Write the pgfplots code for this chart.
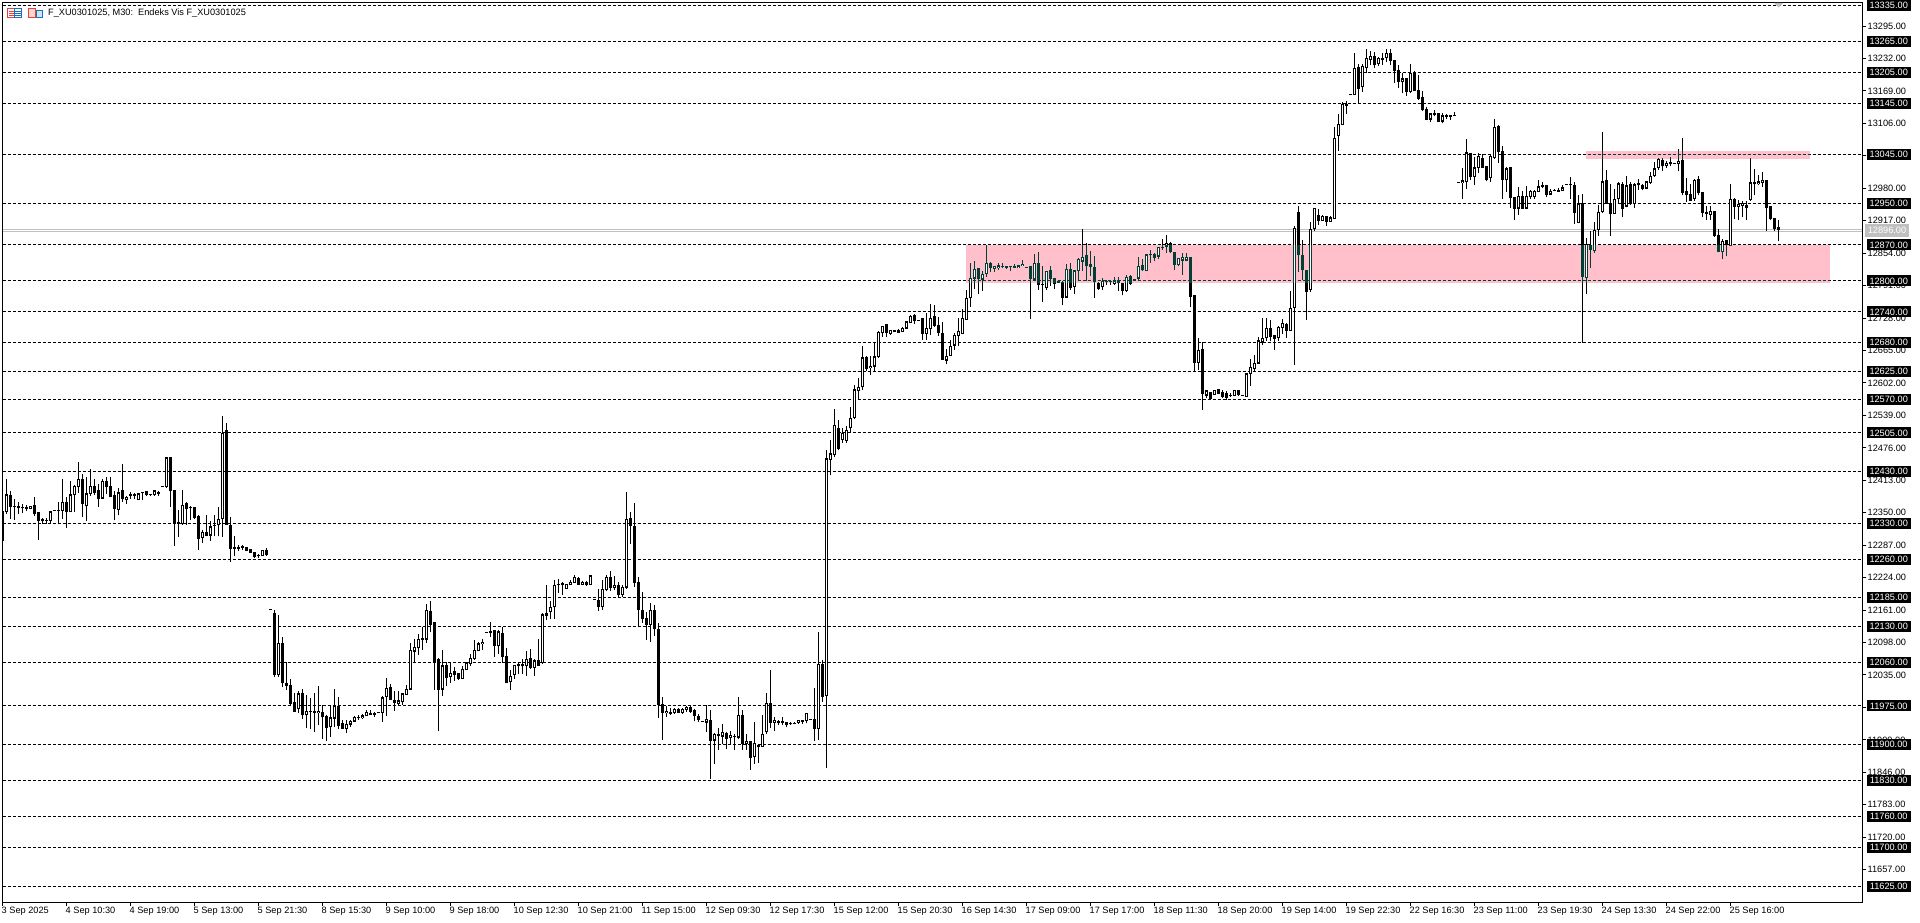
\documentclass[border=0pt]{standalone}
\usepackage{fontspec}
\setmainfont{Liberation Sans}
\usepackage{pgfplots}
\usepackage{pgfplotstable}
\pgfplotsset{compat=1.18}
\usetikzlibrary{calc}
\definecolor{zone}{HTML}{003F34}
\definecolor{lvl}{HTML}{C0C0C0}
\definecolor{iconred}{HTML}{E8413A}
\definecolor{iconblue}{HTML}{1C6FB8}
\definecolor{iconpink}{HTML}{FBD5CF}
\pgfplotstableread{
i o h l c
0 12352 12352 12296 12296
1 12351 12415 12348 12385
2 12383 12393 12338 12362
3 12363 12377 12335 12361
4 12362 12370 12348 12359
5 12361 12367 12349 12359
6 12361 12365 12354 12358
7 12357 12363 12357 12363
8 12364 12380 12343 12349
9 12351 12351 12298 12334
10 12337 12340 12328 12334
11 12335 12339 12328 12334
12 12334 12354 12328 12352
13 12354 12354 12354 12354
14 12354 12370 12328 12354
15 12354 12415 12338 12371
16 12371 12381 12320 12351
17 12351 12411 12351 12385
18 12385 12403 12351 12401
19 12400 12449 12388 12416
20 12416 12426 12341 12367
21 12363 12420 12334 12387
22 12386 12435 12383 12402
23 12402 12416 12385 12389
24 12393 12406 12361 12378
25 12378 12416 12378 12412
26 12412 12419 12387 12400
27 12401 12420 12380 12382
28 12383 12393 12335 12357
29 12355 12398 12345 12389
30 12393 12444 12371 12378
31 12376 12383 12367 12380
32 12386 12391 12377 12383
33 12385 12388 12376 12383
34 12375 12388 12374 12387
35 12388 12391 12374 12390
36 12391 12393 12382 12384
37 12386 12387 12382 12384
38 12385 12395 12383 12393
39 12389 12393 12383 12387
40 12400 12400 12400 12400
41 12400 12459 12398 12457
42 12457 12459 12361 12393
43 12393 12393 12285 12328
44 12332 12356 12303 12328
45 12328 12395 12327 12365
46 12369 12371 12327 12357
47 12361 12364 12335 12359
48 12360 12360 12337 12341
49 12343 12345 12277 12299
50 12301 12317 12291 12313
51 12313 12345 12304 12306
52 12306 12334 12295 12323
53 12325 12345 12304 12325
54 12326 12362 12304 12338
55 12338 12537 12303 12505
56 12510 12525 12327 12327
57 12325 12341 12254 12281
58 12283 12304 12266 12280
59 12283 12288 12275 12281
60 12284 12287 12277 12282
61 12283 12284 12275 12277
62 12279 12279 12272 12272
63 12273 12274 12262 12264
64 12267 12270 12262 12266
65 12266 12278 12266 12278
66 12278 12281 12267 12268
67 12161 12161 12161 12161
68 12154 12162 12032 12036
69 12036 12152 12032 12097
70 12097 12109 12011 12019
71 12019 12060 12005 12015
72 12016 12028 11977 11979
73 11983 12000 11963 11964
74 11969 12003 11961 11999
75 12000 12007 11950 11957
76 11958 11996 11932 11965
77 11965 11990 11931 11963
78 11965 12000 11925 11961
79 11961 12014 11937 11965
80 11963 11977 11911 11953
81 11954 11958 11906 11933
82 11935 11975 11915 11952
83 11951 12007 11935 11974
84 11974 11993 11931 11937
85 11942 11948 11931 11931
86 11931 11948 11922 11940
87 11939 11948 11935 11946
88 11945 11955 11943 11953
89 11952 11957 11948 11953
90 11952 11959 11950 11956
91 11955 11968 11955 11963
92 11961 11967 11957 11957
93 11958 11964 11953 11960
94 11961 11961 11961 11961
95 11961 11995 11944 11991
96 11992 12030 11956 12010
97 12012 12018 11986 11987
98 11985 12003 11966 11981
99 11979 12003 11976 11985
100 11983 12001 11977 11999
101 11997 12016 11997 12008
102 12007 12097 12005 12084
103 12081 12104 12058 12089
104 12087 12115 12074 12105
105 12104 12128 12084 12107
106 12104 12172 12097 12161
107 12159 12179 12118 12133
108 12137 12138 12005 12060
109 12065 12068 11926 12006
110 12007 12084 11994 12053
111 12053 12060 12013 12029
112 12032 12058 12019 12039
113 12042 12050 12023 12036
114 12038 12039 12025 12028
115 12028 12053 12027 12047
116 12045 12060 12044 12059
117 12057 12075 12052 12068
118 12067 12102 12065 12084
119 12082 12099 12081 12096
120 12095 12105 12084 12099
121 12117 12117 12117 12117
122 12118 12138 12109 12120
123 12121 12121 12070 12091
124 12091 12122 12076 12119
125 12117 12129 12058 12071
126 12072 12087 12019 12019
127 12021 12044 12005 12033
128 12036 12054 12028 12054
129 12052 12058 12036 12055
130 12052 12066 12036 12055
131 12052 12081 12034 12066
132 12068 12085 12047 12049
133 12049 12066 12034 12063
134 12064 12105 12052 12053
135 12058 12155 12056 12152
136 12151 12210 12141 12154
137 12157 12179 12144 12167
138 12167 12220 12144 12210
139 12212 12222 12194 12210
140 12213 12216 12191 12211
141 12202 12212 12202 12212
142 12211 12219 12210 12216
143 12214 12229 12213 12225
144 12222 12225 12211 12211
145 12210 12217 12210 12216
146 12215 12217 12208 12210
147 12210 12228 12210 12228
148 12181 12181 12181 12181
149 12181 12202 12160 12168
150 12168 12220 12162 12202
151 12200 12230 12199 12225
152 12225 12237 12198 12205
153 12205 12228 12200 12210
154 12210 12216 12186 12191
155 12191 12210 12186 12206
156 12205 12390 12202 12338
157 12339 12352 12289 12325
158 12324 12369 12206 12214
159 12215 12225 12128 12162
160 12161 12196 12136 12145
161 12146 12157 12103 12133
162 12133 12175 12100 12161
163 12160 12171 12111 12124
164 12123 12136 11952 11977
165 11979 11992 11909 11961
166 11961 11974 11953 11965
167 11960 11971 11958 11962
168 11961 11971 11960 11968
169 11968 11971 11961 11962
170 11962 11971 11960 11969
171 11968 11974 11964 11973
172 11973 11974 11962 11964
173 11966 11969 11945 11955
174 11955 11959 11943 11948
175 11944 11944 11944 11944
176 11943 11977 11924 11950
177 11948 11968 11834 11908
178 11908 11922 11863 11920
179 11917 11932 11889 11920
180 11916 11940 11901 11924
181 11922 11924 11891 11912
182 11914 11926 11900 11918
183 11917 11920 11889 11915
184 11914 11992 11911 11957
185 11957 11968 11889 11902
186 11901 11921 11889 11907
187 11907 11907 11851 11875
188 11876 11944 11863 11903
189 11899 11900 11865 11895
190 11896 11958 11896 11920
191 11924 12000 11921 11980
192 11981 12045 11932 11943
193 11943 11953 11926 11948
194 11943 11948 11937 11945
195 11942 11953 11937 11945
196 11944 11944 11934 11938
197 11940 11944 11938 11942
198 11941 11944 11939 11942
199 11942 11948 11939 11947
200 11945 11948 11940 11948
201 11946 11961 11941 11961
202 11948 11948 11948 11948
203 11950 12010 11907 11931
204 11931 12118 11909 12056
205 12055 12065 11982 11993
206 11994 12471 11854 12455
207 12453 12491 12423 12465
208 12463 12552 12458 12520
209 12515 12530 12471 12475
210 12492 12515 12485 12505
211 12490 12518 12485 12510
212 12515 12556 12505 12534
213 12534 12598 12532 12589
214 12586 12612 12570 12594
215 12594 12673 12588 12651
216 12651 12655 12625 12630
217 12631 12655 12617 12635
218 12634 12682 12625 12653
219 12652 12703 12651 12701
220 12699 12712 12691 12712
221 12715 12715 12692 12699
222 12697 12704 12695 12704
223 12704 12704 12700 12701
224 12704 12706 12699 12700
225 12701 12710 12700 12709
226 12708 12721 12708 12721
227 12719 12733 12719 12732
228 12733 12736 12717 12722
229 12723 12723 12723 12723
230 12727 12729 12685 12698
231 12697 12737 12685 12709
232 12707 12756 12696 12728
233 12731 12754 12711 12714
234 12714 12730 12694 12700
235 12699 12720 12646 12648
236 12646 12667 12638 12654
237 12655 12686 12655 12673
238 12675 12699 12666 12695
239 12693 12729 12673 12702
240 12698 12745 12697 12728
241 12725 12783 12724 12767
242 12767 12834 12750 12805
243 12805 12839 12785 12823
244 12824 12825 12774 12804
245 12803 12819 12781 12814
246 12814 12870 12808 12835
247 12834 12836 12817 12826
248 12824 12829 12817 12829
249 12825 12835 12822 12830
250 12829 12834 12825 12827
251 12829 12829 12823 12826
252 12828 12829 12819 12827
253 12828 12832 12825 12826
254 12825 12830 12825 12830
255 12829 12840 12829 12833
256 12825 12825 12825 12825
257 12828 12828 12726 12805
258 12803 12853 12801 12834
259 12835 12856 12783 12793
260 12794 12829 12760 12792
261 12786 12819 12783 12819
262 12820 12829 12790 12805
263 12806 12806 12785 12794
264 12799 12799 12796 12796
265 12798 12800 12753 12767
266 12768 12833 12766 12823
267 12823 12834 12783 12787
268 12788 12822 12775 12820
269 12819 12844 12800 12842
270 12838 12900 12819 12847
271 12849 12874 12800 12829
272 12832 12858 12809 12827
273 12827 12849 12767 12798
274 12796 12798 12783 12785
275 12788 12806 12782 12800
276 12800 12801 12792 12799
277 12800 12801 12792 12799
278 12795 12807 12792 12800
279 12801 12807 12781 12796
280 12796 12796 12772 12781
281 12781 12811 12779 12808
282 12809 12812 12793 12794
283 12803 12803 12803 12803
284 12805 12847 12800 12829
285 12830 12842 12819 12821
286 12819 12851 12819 12851
287 12850 12861 12835 12852
288 12851 12855 12838 12846
289 12848 12866 12842 12865
290 12864 12882 12861 12866
291 12867 12890 12855 12874
292 12874 12876 12855 12856
293 12856 12856 12821 12832
294 12832 12845 12829 12845
295 12840 12855 12812 12846
296 12840 12855 12838 12847
297 12847 12847 12750 12770
298 12772 12772 12623 12641
299 12641 12690 12628 12666
300 12668 12682 12550 12581
301 12578 12589 12572 12587
302 12584 12585 12569 12572
303 12579 12589 12579 12588
304 12589 12591 12580 12581
305 12584 12589 12573 12575
306 12582 12586 12569 12574
307 12579 12582 12575 12577
308 12577 12589 12576 12588
309 12588 12589 12576 12579
310 12577 12577 12577 12577
311 12575 12622 12575 12620
312 12620 12648 12597 12633
313 12629 12656 12626 12640
314 12640 12692 12639 12684
315 12681 12729 12676 12689
316 12689 12729 12683 12708
317 12708 12725 12683 12692
318 12695 12695 12666 12688
319 12689 12713 12684 12711
320 12709 12727 12698 12718
321 12715 12718 12690 12703
322 12703 12781 12703 12747
323 12748 12907 12637 12902
324 12934 12945 12818 12850
325 12850 12879 12802 12821
326 12821 12821 12724 12779
327 12783 12914 12779 12900
328 12901 12941 12898 12941
329 12927 12939 12909 12917
330 12917 12928 12916 12926
331 12925 12927 12907 12915
332 12915 12927 12915 12923
333 12921 13098 12921 13077
334 13082 13125 13053 13104
335 13103 13148 13103 13143
336 13140 13149 13125 13143
337 13162 13162 13162 13162
338 13162 13242 13162 13213
339 13215 13222 13145 13173
340 13177 13221 13167 13217
341 13214 13251 13203 13232
342 13229 13246 13219 13236
343 13236 13245 13214 13219
344 13221 13234 13218 13233
345 13229 13242 13220 13232
346 13233 13250 13226 13242
347 13242 13251 13219 13228
348 13228 13230 13185 13208
349 13209 13220 13174 13187
350 13187 13203 13164 13193
351 13194 13194 13160 13167
352 13167 13222 13164 13203
353 13205 13208 13168 13169
354 13170 13200 13152 13154
355 13156 13168 13130 13132
356 13134 13138 13112 13114
357 13114 13125 13108 13125
358 13123 13132 13120 13125
359 13125 13125 13108 13109
360 13110 13127 13106 13121
361 13119 13125 13115 13121
362 13119 13122 13113 13121
363 13120 13129 13120 13120
364 12991 12991 12991 12991
365 12991 13020 12959 12995
366 12993 13075 12978 13049
367 13048 13048 12996 13002
368 13002 13040 12986 13020
369 13020 13048 13010 13042
370 13038 13047 13019 13020
371 13022 13022 12995 12997
372 13000 13047 12993 13042
373 13039 13115 13037 13099
374 13101 13103 13029 13050
375 13051 13063 12960 12997
376 12997 13021 12973 13018
377 13020 13022 12941 12961
378 12962 12962 12918 12941
379 12941 12982 12929 12965
380 12965 12974 12940 12941
381 12941 12985 12940 12965
382 12964 12976 12960 12975
383 12964 12976 12960 12974
384 12973 12996 12972 12983
385 12982 12993 12981 12985
386 12985 12985 12964 12968
387 12968 12978 12966 12975
388 12975 12979 12974 12977
389 12977 12980 12972 12974
390 12976 12987 12976 12981
391 12987 12987 12987 12987
392 12986 13002 12960 12987
393 12985 12992 12910 12933
394 12913 12967 12912 12950
395 12950 12968 12680 12809
396 12806 12883 12775 12872
397 12870 12898 12825 12861
398 12858 12915 12854 12899
399 12899 12947 12888 12934
400 12934 13090 12932 12993
401 12996 13015 12950 12950
402 12950 12989 12888 12930
403 12930 12979 12930 12959
404 12960 12992 12950 12989
405 12987 12993 12924 12941
406 12945 13004 12943 12985
407 12987 12992 12948 12949
408 12950 12991 12942 12987
409 12987 12998 12977 12989
410 12985 12989 12976 12980
411 12980 12994 12979 12993
412 12991 13011 12989 13004
413 13004 13031 13002 13018
414 13019 13039 13016 13036
415 13035 13039 13014 13023
416 13023 13032 13019 13029
417 13028 13040 13023 13030
418 13028 13028 13028 13028
419 13027 13057 13013 13033
420 13035 13077 12966 12972
421 12974 13000 12954 12967
422 12968 12989 12955 12956
423 12959 12998 12956 12996
424 12998 13003 12966 12971
425 12973 12973 12924 12932
426 12933 12945 12918 12930
427 12928 12945 12918 12936
428 12935 12935 12886 12887
429 12888 12901 12856 12856
430 12856 12882 12842 12878
431 12879 12880 12848 12871
432 12868 12989 12867 12959
433 12958 12962 12921 12945
434 12945 12958 12918 12949
435 12947 12956 12925 12951
436 12947 12956 12918 12943
437 12957 13039 12956 12991
438 12988 13018 12966 12991
439 12988 13005 12987 12993
440 12991 13011 12982 12996
441 12996 12996 12898 12943
442 12945 12945 12918 12920
443 12921 12921 12898 12901
444 12904 12918 12877 12899
}\ohlc
\begin{document}
\begin{tikzpicture}
\path[use as bounding box] (0,0) rectangle (1920pt,923pt);
\fill[white] (0,0) rectangle (1920pt,923pt);
\begin{axis}[
  at={(2.5pt,20.5pt)}, anchor=south west, scale only axis,
  width=1860pt, height=900pt,
  xmin=0, xmax=465, ymin=11593.3, ymax=13340.7,
  clip mode=individual,
  axis line style={line width=1pt,black},
  tick align=outside, major tick length=4pt,
  tick style={line width=1pt,black},
  xtick pos=bottom, ytick pos=right, yticklabel pos=right,
  scaled y ticks=false,
  xtick={0,16,...,432},
  xticklabels={3 Sep 2025,4 Sep 10:30,4 Sep 19:00,5 Sep 13:00,5 Sep 21:30,8 Sep 15:30,9 Sep 10:00,9 Sep 18:00,10 Sep 12:30,10 Sep 21:00,11 Sep 15:00,12 Sep 09:30,12 Sep 17:30,15 Sep 12:00,15 Sep 20:30,16 Sep 14:30,17 Sep 09:00,17 Sep 17:00,18 Sep 11:30,18 Sep 20:00,19 Sep 14:00,19 Sep 22:30,22 Sep 16:30,23 Sep 11:00,23 Sep 19:30,24 Sep 13:30,24 Sep 22:00,25 Sep 16:00},
  ytick={13295,13232,13169,13106,13043,12980,12917,12854,12791,12728,12665,12602,12539,12476,12413,12350,12287,12224,12161,12098,12035,11972,11909,11846,11783,11720,11657},
  tick label style={font=\fontsize{9.2}{9.2}\selectfont},
  x tick label style={anchor=north west, inner sep=0pt, xshift=-1pt, yshift=0pt},
  y tick label style={anchor=west, inner sep=0pt, xshift=1pt},
  /pgf/number format/fixed, /pgf/number format/fixed zerofill, /pgf/number format/precision=2,
  /pgf/number format/1000 sep={}, /pgf/number format/assume math mode=true,
  major grid style={line width=1pt,black,dash pattern=on 3pt off 2pt},
  extra y ticks={13335,13265,13205,13145,13045,12950,12870,12800,12740,12680,12625,12570,12505,12430,12330,12260,12185,12130,12060,11975,11900,11830,11760,11700,11625},
  extra y tick style={grid=major, major tick length=0pt,
    y tick label style={fill=black, text=white, minimum width=44pt, minimum height=11pt, inner sep=0pt, align=center, anchor=west, xshift=3pt}},
]
\addplot[lvl, line width=1pt, forget plot] coordinates {(0,12899.9) (465,12899.9)};
\addplot[lvl, line width=1pt, forget plot] coordinates {(0,12896.1) (465,12896.1)};
% wicks
\addplot[draw=none, no markers, forget plot, error bars/.cd, y dir=plus, y explicit, error mark=none,
  error bar style={line width=1pt, draw=black}]
  table[x=i, y=l, y error plus expr=\thisrow{h}-\thisrow{l}] {\ohlc};
% bodies
\addplot[draw=none, no markers, forget plot, error bars/.cd, y dir=plus, y explicit, error mark=none,
  error bar style={line width=3pt, draw=black}]
  table[x=i, y expr={min(\thisrow{o},\thisrow{c})-0.5}, y error plus expr={max(abs(\thisrow{c}-\thisrow{o})+1,2)}] {\ohlc};
% zones
\addplot[draw=none, fill=zone, blend mode=difference, forget plot] coordinates {(240.9,12870) (456.9,12870) (456.9,12797) (240.9,12797)} --cycle;
\addplot[draw=none, fill=zone, blend mode=difference, forget plot] coordinates {(395.9,13052) (451.9,13052) (451.9,13037) (395.9,13037)} --cycle;
% hollow interiors of rising candles
\addplot[draw=none, no markers, forget plot, error bars/.cd, y dir=plus, y explicit, error mark=none,
  error bar style={line width=1pt, draw=white}]
  table[x=i, y expr={min(\thisrow{o},\thisrow{c})+1.9}, y error plus expr={\thisrow{c}-\thisrow{o}>3.8 ? \thisrow{c}-\thisrow{o}-3.8 : 0}] {\ohlc};
\end{axis}
% current-price tag, shift marker, header
\node[fill=lvl, text=white, minimum width=44pt, minimum height=13pt, inner sep=0pt, font=\fontsize{9.2}{9.2}\selectfont] at (1887pt,692.5pt) {12896.00};
\fill[lvl] (1774pt,920pt) -- (1783pt,920pt) -- (1778.5pt,915.5pt) -- cycle;
\node[anchor=west, inner sep=0pt, font=\fontsize{9.2}{9.2}\selectfont] at (48pt,909.5pt) {F\_XU0301025, M30:\ \ Endeks Vis F\_XU0301025};
% icons
\draw[iconred, line width=1pt] (7.5pt,914.5pt) rectangle (14.5pt,905.5pt);
\draw[iconblue, line width=1pt] (14.5pt,914.5pt) rectangle (21.5pt,905.5pt);
\foreach \yy in {907.5,909.5,911.5}{
  \draw[iconred] (8.5pt,\yy pt) -- (14pt,\yy pt);
  \draw[iconblue] (15pt,\yy pt) -- (21pt,\yy pt);
}
\draw[iconred, fill=iconpink, line width=1pt] (28.5pt,914.5pt) -- (35pt,914.5pt) -- (35pt,905.5pt) -- (28.5pt,905.5pt) -- cycle;
\draw[iconblue, fill=iconblue!20, line width=1pt] (36.5pt,912pt) -- (42.5pt,912pt) -- (42.5pt,905.5pt) -- (36.5pt,905.5pt) -- cycle;
\end{tikzpicture}
\end{document}
